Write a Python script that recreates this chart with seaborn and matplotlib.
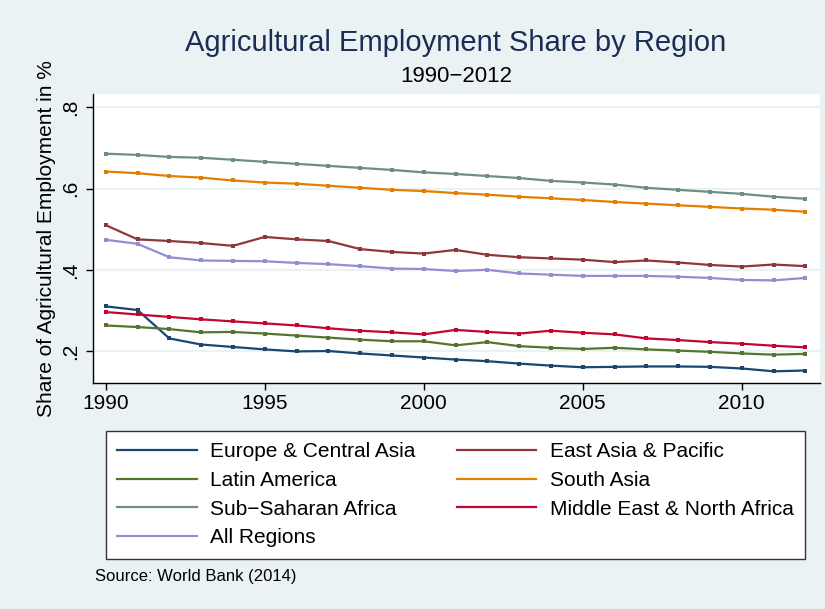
import numpy as np
import pandas as pd
import matplotlib
matplotlib.use("Agg")
import matplotlib.pyplot as plt
from matplotlib.lines import Line2D
import seaborn as sns

years = list(range(1990, 2013))

europe_central_asia = [0.310, 0.301, 0.231, 0.216, 0.210, 0.204, 0.199, 0.200, 0.194, 0.189, 0.184, 0.179,
                       0.175, 0.169, 0.164, 0.160, 0.161, 0.162, 0.162, 0.161, 0.157, 0.150, 0.152]
east_asia_pacific = [0.510, 0.475, 0.471, 0.466, 0.459, 0.481, 0.475, 0.471, 0.451, 0.444, 0.440, 0.449,
                     0.437, 0.431, 0.428, 0.425, 0.419, 0.423, 0.418, 0.412, 0.408, 0.413, 0.409]
latin_america = [0.263, 0.259, 0.254, 0.246, 0.247, 0.243, 0.238, 0.233, 0.228, 0.224, 0.224, 0.214,
                 0.222, 0.212, 0.208, 0.205, 0.208, 0.204, 0.201, 0.198, 0.194, 0.191, 0.193]
south_asia = [0.642, 0.638, 0.631, 0.627, 0.620, 0.615, 0.612, 0.607, 0.602, 0.597, 0.594, 0.589,
              0.585, 0.580, 0.576, 0.572, 0.567, 0.563, 0.559, 0.555, 0.551, 0.548, 0.543]
sub_saharan_africa = [0.686, 0.683, 0.678, 0.676, 0.671, 0.666, 0.661, 0.656, 0.651, 0.646, 0.640, 0.636,
                      0.631, 0.626, 0.619, 0.615, 0.610, 0.602, 0.597, 0.592, 0.587, 0.580, 0.575]
middle_east_north_africa = [0.296, 0.290, 0.284, 0.278, 0.273, 0.268, 0.263, 0.256, 0.250, 0.246, 0.241, 0.252,
                            0.247, 0.243, 0.250, 0.245, 0.241, 0.231, 0.227, 0.222, 0.218, 0.213, 0.209]
all_regions = [0.474, 0.464, 0.431, 0.423, 0.422, 0.421, 0.417, 0.414, 0.409, 0.403, 0.402, 0.397,
               0.400, 0.391, 0.388, 0.385, 0.385, 0.385, 0.383, 0.380, 0.375, 0.374, 0.380]

region_names = ["Europe & Central Asia", "East Asia & Pacific", "Latin America", "South Asia",
                "Sub\u2212Saharan Africa", "Middle East & North Africa", "All Regions"]
series = [europe_central_asia, east_asia_pacific, latin_america, south_asia,
          sub_saharan_africa, middle_east_north_africa, all_regions]
colors = ["#1a476f", "#90353b", "#55752f", "#e37e00", "#6e8e84", "#c10534", "#938dd2"]

x_ticks = [1990, 1995, 2000, 2005, 2010]
y_ticks = [0.2, 0.4, 0.6, 0.8]
y_tick_labels = [".2", ".4", ".6", ".8"]

rows = []
for name, vals in zip(region_names, series):
    for yr, v in zip(years, vals):
        rows.append({"year": yr, "share": v, "region": name})
df = pd.DataFrame(rows)

plt.rcParams["font.family"] = ["Liberation Sans", "DejaVu Sans"]
bg = "#eaf2f3"

fig = plt.figure(figsize=(8.25, 6.09), dpi=100, facecolor=bg)
ax = fig.add_axes([92.7 / 825, 1 - 383.3 / 609, (820 - 92.7) / 825, (383.3 - 94) / 609])
ax.set_facecolor("white")

palette = dict(zip(region_names, colors))
sns.lineplot(data=df, x="year", y="share", hue="region", hue_order=region_names,
             palette=palette, ax=ax, legend=False, linewidth=1.6,
             marker="s", markersize=2.6, markeredgewidth=0)

ax.set_xlim(1989.59, 2012.46)
ax.set_ylim(0.1205, 0.833)
ax.set_xticks(x_ticks)
ax.set_yticks(y_ticks)
ax.set_yticklabels(y_tick_labels, rotation=90, va="center")
ax.tick_params(axis="both", labelsize=15, length=5, width=1, color="black", pad=3)
ax.tick_params(axis="y", pad=4)
ax.grid(axis="y", color=bg, linewidth=1.6)
ax.grid(axis="x", visible=False)
ax.set_axisbelow(True)
for s in ["top", "right"]:
    ax.spines[s].set_visible(False)
for s in ["left", "bottom"]:
    ax.spines[s].set_color("black")
    ax.spines[s].set_linewidth(1)
ax.set_xlabel("")
ax.set_ylabel("Share of Agricultural Employment in %", fontsize=15, labelpad=4)

fig.text(456 / 825, 1 - 43 / 609, "Agricultural Employment Share by Region",
         ha="center", va="center", fontsize=21, color="#1c2c54")
fig.text(456 / 825, 1 - 77 / 609, "1990\u22122012", ha="center", va="center", fontsize=16, color="black")
fig.text(95 / 825, 1 - 577 / 609, "Source: World Bank (2014)", ha="left", va="center", fontsize=12, color="black")

order = [0, 2, 4, 6, 1, 3, 5]
handles = [Line2D([0], [0], color=colors[i], linewidth=1.6) for i in order]
labels = [region_names[i] for i in order]
leg = fig.legend(handles, labels, ncol=2, loc="upper left",
                 bbox_to_anchor=(106 / 825, 1 - 431 / 609),
                 fontsize=15, frameon=True, fancybox=False,
                 edgecolor="#333333", facecolor="white", framealpha=1,
                 handlelength=3.8, handletextpad=0.65, labelspacing=0.46,
                 columnspacing=2.0, borderpad=0.55, borderaxespad=0)
leg.get_frame().set_linewidth(1)

fig.savefig("out.png", dpi=100, facecolor=bg)
